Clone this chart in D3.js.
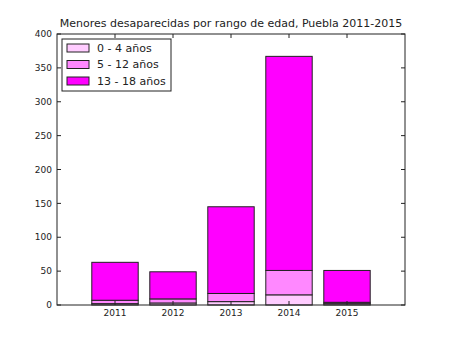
<!DOCTYPE html>
<html>
<head>
<meta charset="utf-8">
<script src="https://cdn.jsdelivr.net/npm/d3@7"></script>
<style>
  body { margin: 0; background: #fff; }
  text { font-family: "DejaVu Sans", sans-serif; fill: #222; }
</style>
</head>
<body>
<svg id="chart" width="450" height="339"></svg>
<script>
const years = [2011, 2012, 2013, 2014, 2015];
const ages0to4 = [2, 3, 5, 15, 2];
const ages5to12 = [5, 6, 12, 36, 2];
const ages13to18 = [56, 40, 128, 316, 47];
const seriesNames = ["0 - 4 años", "5 - 12 años", "13 - 18 años"];
const seriesColors = ["#ffccff", "#ff88ff", "#ff00ff"];
const yTicks = [0, 50, 100, 150, 200, 250, 300, 350, 400];

const margin = { top: 34, right: 45, bottom: 34, left: 57 };
const width = 450 - margin.left - margin.right;
const height = 339 - margin.top - margin.bottom;

const svg = d3.select("#chart");
const g = svg.append("g").attr("transform", `translate(${margin.left},${margin.top})`);

const x = d3.scaleLinear().domain([2010, 2016]).range([0, width]);
const y = d3.scaleLinear().domain([0, 400]).range([height, 0]);

// stack the three series
const rows = years.map((yr, i) => ({ year: yr, s0: ages0to4[i], s1: ages5to12[i], s2: ages13to18[i] }));
const stacked = d3.stack().keys(["s0", "s1", "s2"])(rows);

const barW = x(2010.8) - x(2010);
stacked.forEach((layer, li) => {
  g.append("g")
    .selectAll("rect")
    .data(layer)
    .enter()
    .append("rect")
    .attr("x", d => x(d.data.year) - barW / 2)
    .attr("y", d => y(d[1]))
    .attr("width", barW)
    .attr("height", d => y(d[0]) - y(d[1]))
    .attr("fill", seriesColors[li])
    .attr("stroke", "#222")
    .attr("stroke-width", 1);
});

// frame
g.append("rect")
  .attr("width", width).attr("height", height)
  .attr("fill", "none").attr("stroke", "#222").attr("stroke-width", 1);

// y ticks (inward, both sides)
const yt = g.append("g");
yTicks.forEach(t => {
  yt.append("line").attr("x1", 0).attr("x2", 4).attr("y1", y(t)).attr("y2", y(t)).attr("stroke", "#222");
  yt.append("line").attr("x1", width).attr("x2", width - 4).attr("y1", y(t)).attr("y2", y(t)).attr("stroke", "#222");
  yt.append("text").attr("x", -5).attr("y", y(t)).attr("dy", "0.35em")
    .attr("text-anchor", "end").style("font-size", "9px").text(t);
});

// x ticks
const xt = g.append("g");
years.forEach(yr => {
  xt.append("line").attr("x1", x(yr)).attr("x2", x(yr)).attr("y1", height).attr("y2", height - 4).attr("stroke", "#222");
  xt.append("line").attr("x1", x(yr)).attr("x2", x(yr)).attr("y1", 0).attr("y2", 4).attr("stroke", "#222");
  xt.append("text").attr("x", x(yr)).attr("y", height + 11)
    .attr("text-anchor", "middle").style("font-size", "9px").text(yr);
});

// title
svg.append("text")
  .attr("x", margin.left + width / 2)
  .attr("y", 27)
  .attr("text-anchor", "middle")
  .style("font-size", "11px")
  .text("Menores desaparecidas por rango de edad, Puebla 2011-2015");

// legend
const legend = g.append("g").attr("transform", "translate(5,5)");
legend.append("rect")
  .attr("width", 109).attr("height", 52)
  .attr("fill", "#fff").attr("stroke", "#222");
seriesNames.forEach((name, i) => {
  const row = legend.append("g").attr("transform", `translate(5, ${9 + i * 16.5})`);
  row.append("rect").attr("x", 0).attr("y", -4).attr("width", 22).attr("height", 8)
    .attr("fill", seriesColors[i]).attr("stroke", "#222");
  row.append("text").attr("x", 30).attr("y", 0).attr("dy", "0.35em")
    .style("font-size", "11px").text(name);
});
</script>
</body>
</html>
